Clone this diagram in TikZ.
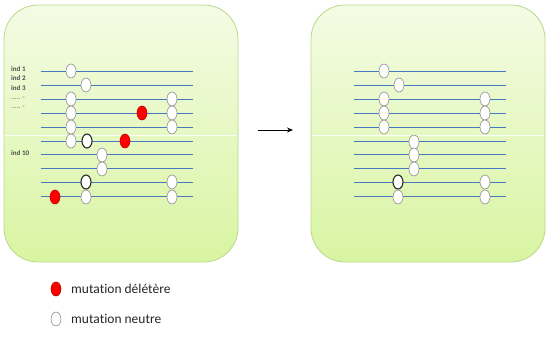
\documentclass[tikz,border=0pt]{standalone}
\usepackage{fontspec}
\setmainfont{Carlito}[Ligatures=NoCommon]
\usetikzlibrary{shapes.geometric,arrows.meta}
\definecolor{boxtop}{HTML}{F4FBE4}
\definecolor{boxbot}{HTML}{D8F5A2}
\definecolor{boxline}{HTML}{B9D98A}
\definecolor{chrom}{HTML}{4A78C0}
\definecolor{ovalgray}{HTML}{8A8A8A}
\tikzset{
  panel/.style={draw=boxline, line width=0.8pt, rounded corners=34pt, top color=boxtop, bottom color=boxbot},
  chromline/.style={draw=chrom, line width=0.9pt},
  neutral/.style={ellipse, draw=ovalgray, fill=white, line width=0.6pt, minimum width=10pt, minimum height=14pt, inner sep=0pt},
  neutralbold/.style={neutral, draw=black!85, line width=1.1pt},
  delet/.style={ellipse, draw=red!70!black, fill=red, line width=0.6pt, minimum width=10pt, minimum height=14pt, inner sep=0pt},
  indlab/.style={font=\bfseries\fontsize{7}{8}\selectfont, text=black!70, anchor=west, inner sep=0pt},
  legtext/.style={font=\fontsize{13.5}{15}\selectfont, text=black!85, anchor=west, inner sep=0pt},
}
\begin{document}
\begin{tikzpicture}[x=1pt,y=-1pt]
\useasboundingbox (0,0) rectangle (548,346);
% panels
\path[panel] (4,5) rectangle (238,262);
\path[panel] (311,5) rectangle (545,262);
\draw[white, line width=0.6pt, opacity=0.8] (5,135) -- (237,135);
\draw[white, line width=0.6pt, opacity=0.8] (312,135) -- (544,135);
% chromosome lines
\foreach \i/\y in {1/71,2/85,3/99,4/113,5/127,6/141,7/154,8/168,9/182,10/196}{
  \coordinate (La\i) at (41,\y); \coordinate (Lb\i) at (193,\y);
  \coordinate (Ra\i) at (354,\y); \coordinate (Rb\i) at (506,\y);
  \draw[chromline] (La\i) -- (Lb\i);
  \draw[chromline] (Ra\i) -- (Rb\i);
}
% labels
\node[indlab] (t1) at (11,69) {ind 1};
\node[indlab] (t2) at (11,78) {ind 2};
\node[indlab] (t3) at (11,88) {ind 3};
\node[indlab, text=black!45] (t4) at (11,98) {..... -};
\node[indlab, text=black!45] (t5) at (11,107) {..... -};
\node[indlab] (t10) at (11,153) {ind 10};
% left ovals
\node[neutral] (a1) at (71,71) {};
\node[neutral] (a2) at (86,85) {};
\node[neutral] (a3a) at (71,99) {};
\node[neutral] (a3b) at (172,99) {};
\node[neutral] (a4a) at (71,113) {};
\node[delet] (a4r) at (142,113) {};
\node[neutral] (a4b) at (172,113) {};
\node[neutral] (a5a) at (71,127) {};
\node[neutral] (a5b) at (172,127) {};
\node[neutral] (a6a) at (71,141) {};
\node[neutralbold] (a6b) at (87,141) {};
\node[delet] (a6r) at (125,141) {};
\node[neutral] (a7) at (102,155) {};
\node[neutral] (a8) at (102,169) {};
\node[neutralbold] (a9a) at (86,182) {};
\node[neutral] (a9b) at (172,182) {};
\node[delet] (a10r) at (55,197) {};
\node[neutral] (a10a) at (86,197) {};
\node[neutral] (a10b) at (172,197) {};
% right ovals
\node[neutral] (b1) at (384,71) {};
\node[neutral] (b2) at (399,85) {};
\node[neutral] (b3a) at (384,99) {};
\node[neutral] (b3b) at (485,99) {};
\node[neutral] (b4a) at (384,113) {};
\node[neutral] (b4b) at (485,113) {};
\node[neutral] (b5a) at (384,127) {};
\node[neutral] (b5b) at (485,127) {};
\node[neutral] (b6) at (414,142) {};
\node[neutral] (b7) at (414,155) {};
\node[neutral] (b8) at (414,169) {};
\node[neutralbold] (b9a) at (398,182) {};
\node[neutral] (b9b) at (485,182) {};
\node[neutral] (b10a) at (398,197) {};
\node[neutral] (b10b) at (485,197) {};
% arrow
\coordinate (arrA) at (258,130);
\coordinate (arrB) at (293,130);
\draw[line width=1pt, -{Stealth[length=6pt,width=5pt]}] (arrA) -- (arrB);
% legend
\node[delet] (legr) at (56,289) {};
\node[legtext] (legrt) at (71,289) {mutation délétère};
\node[neutral] (legn) at (56,319) {};
\node[legtext] (legnt) at (71,319) {mutation neutre};
\end{tikzpicture}
\end{document}
